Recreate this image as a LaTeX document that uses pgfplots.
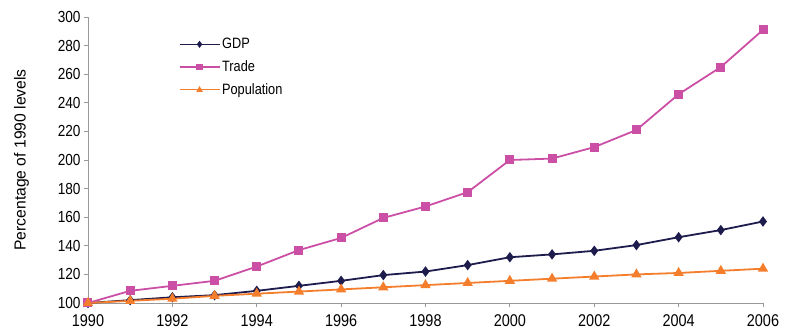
\documentclass[border=0pt]{standalone}
\usepackage{pgfplots}
\pgfplotsset{compat=1.18}
\usepackage{fontspec}
\setmainfont{Liberation Sans}
\newfontfamily\condfont[FakeStretch=0.85]{Liberation Sans}
\newfontfamily\labelfont[FakeStretch=0.98]{Liberation Sans}
\definecolor{gdpc}{HTML}{1E1B4D}
\definecolor{tradec}{HTML}{CC4FA6}
\definecolor{popc}{HTML}{F47E2C}
\begin{document}
\begin{tikzpicture}
\begin{axis}[
  scale only axis,
  width=675pt, height=286pt,
  xmin=1990, xmax=2006, ymin=100, ymax=300,
  xtick={1990,1992,...,2006},
  ytick={100,120,...,300},
  axis lines*=left,
  axis line style={draw=gray!80, line width=0.8pt},
  tick style={draw=gray!80, line width=0.8pt},
  tick align=outside,
  major tick length=4pt,
  x tick label style={/pgf/number format/1000 sep={}, font=\condfont\fontsize{17}{19}\selectfont, yshift=-4pt},
  y tick label style={font=\condfont\fontsize{16}{18}\selectfont},
  /pgf/number format/assume math mode=true,
  ylabel={Percentage of 1990 levels},
  ylabel style={font=\labelfont\fontsize{16}{18}\selectfont},
  ylabel shift=22pt,
  clip=false,
  legend style={draw=none, fill=none, at={(axis description cs:0.13,0.94)}, anchor=north west, font=\condfont\fontsize{15}{17}\selectfont, row sep=6.5pt},
  legend cell align=left,
  legend image code/.code={
    \draw[#1, line width=1.2pt, mark size=2.6pt, mark repeat=2, mark phase=2] plot coordinates {(0pt,0pt) (20pt,0pt) (40pt,0pt)};
  },
]
\addplot[gdpc, line width=1.8pt, mark=diamond*, mark size=3.8pt] coordinates {
(1990,100) (1991,102) (1992,104) (1993,105.5) (1994,108.5) (1995,112) (1996,115.5) (1997,119.5) (1998,122) (1999,126.5) (2000,132) (2001,134) (2002,136.5) (2003,140.5) (2004,146) (2005,151) (2006,157)};
\addlegendentry{GDP}
\addplot[tradec, line width=1.8pt, mark=square*, mark size=3.6pt] coordinates {
(1990,100) (1991,108.5) (1992,112) (1993,115.5) (1994,125.5) (1995,137) (1996,145.5) (1997,159.5) (1998,167.5) (1999,177.5) (2000,200) (2001,201) (2002,209) (2003,221) (2004,246) (2005,265) (2006,291)};
\addlegendentry{Trade}
\addplot[popc, line width=1.8pt, mark=triangle*, mark size=4.2pt] coordinates {
(1990,100) (1991,101.5) (1992,103) (1993,105) (1994,106.5) (1995,108) (1996,109.5) (1997,111) (1998,112.5) (1999,114) (2000,115.5) (2001,117) (2002,118.5) (2003,120) (2004,121) (2005,122.5) (2006,124)};
\addlegendentry{Population}
\end{axis}
\path (-88pt,-31pt) rectangle (699pt,303pt);
\end{tikzpicture}
\end{document}
